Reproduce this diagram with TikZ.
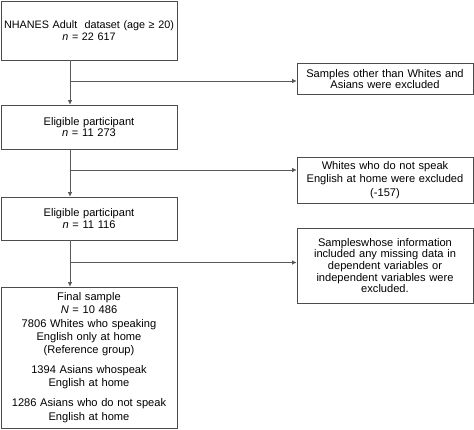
\documentclass[tikz,border=0pt]{standalone}
\usepackage{fontspec}
\setmainfont{Liberation Sans}
\usetikzlibrary{arrows.meta}
\begin{document}
\begin{tikzpicture}[x=1pt,y=-1pt,
  box/.style={draw=black!70, line width=0.7pt, align=center, inner sep=0pt,
    minimum width=176pt, text width=176pt},
  fs/.style={font=\fontsize{11.1}{#1}\selectfont},
  conn/.style={draw=black!65, line width=0.7pt},
  arr/.style={conn, -{Latex[length=4.5pt,width=4.5pt]}}]
\useasboundingbox (0,0) rectangle (474,430);
\node[box, font=\fontsize{10.8}{12}\selectfont, minimum height=59pt] (b1) at (89,30.5) {NHANES Adult\ \ dataset (age ≥ 20)\\\textit{n} = 22 617};
\node[box, fs=11.7, minimum height=44pt] (e1) at (89,127) {Eligible participant\\\textit{n} = 11 273};
\node[box, fs=11.7, minimum height=43pt] (e2) at (89,218.5) {Eligible participant\\\textit{n} = 11 116};
\node[box, fs=13.3, minimum height=141pt] (fin) at (89,357.5) {Final sample\\\textit{N} = 10 486\\7806 Whites who speaking\\English only at home\\(Reference group)\\[6.5pt]1394 Asians whospeak\\English at home\\[6.5pt]1286 Asians who do not speak\\English at home};
\node[box, fs=11.5, minimum height=31pt] (x1) at (385,79) {Samples other than Whites and\\Asians were excluded};
\node[box, fs=13.3, minimum height=46pt] (x2) at (385,180) {Whites who do not speak\\English at home were excluded\\(-157)};
\node[box, fs=11.6, minimum height=75pt] (x3) at (385,265.5) {Sampleswhose information\\included any missing data in\\dependent variables or\\independent variables were\\excluded.};
\coordinate (c1) at (70,81);
\coordinate (c2) at (70,170);
\coordinate (c3) at (70,262.5);
\draw[arr] (b1.south -| c1) -- (e1.north -| c1);
\draw[arr] (e1.south -| c2) -- (e2.north -| c2);
\draw[arr] (e2.south -| c3) -- (fin.north -| c3);
\draw[arr] (c1) -- (c1 -| x1.west);
\draw[arr] (c2) -- (c2 -| x2.west);
\draw[arr] (c3) -- (c3 -| x3.west);
\end{tikzpicture}
\end{document}
